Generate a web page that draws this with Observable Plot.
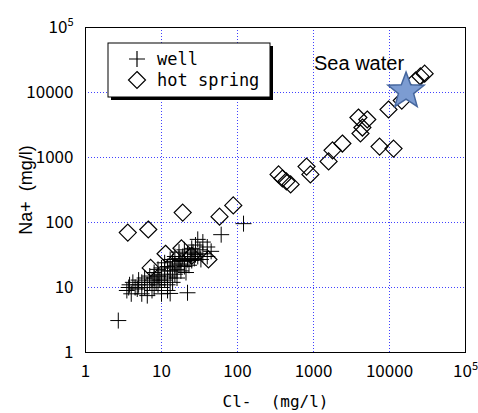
<!DOCTYPE html>
<html>
<head>
<meta charset="utf-8">
<script src="https://cdn.jsdelivr.net/npm/d3@7"></script>
<script src="https://cdn.jsdelivr.net/npm/@observablehq/plot@0.6"></script>
<style>
  html, body { margin: 0; padding: 0; background: white; }
</style>
</head>
<body>
<div id="chart"></div>
<script>
// ---- data (mg/l) ----
const wellCl = [2.7,3.5,3.7,3.8,4,4.2,4.5,4.8,5,5,5.5,5.5,6,6,6.5,6.5,7,7,7.5,7.5,8,8,8,8.5,9,9,9,9.5,10,10,10,10,10,11,11,11,12,12,12,12,13,13,13,14,14,14,15,15,15,16,16,17,17,17,18,18,19,20,20,20,21,22,22,23,24,25,25,26,27,28,28,30,30,32,33,35,35,40,40,45,13,22,61,120];
const wellNa = [3.1,9,10,11,8,12,10,9.5,11,13,8,12,10,14,11,7.5,12,15,9,13,10,14,17,12,11,15,19,13,10,12,16,20,8,13,18,24,11,15,21,9,14,18,27,12,20,25,16,22,30,14,19,23,28,35,18,26,30,21,25,38,17,27,33,22,30,26,40,35,28,32,45,30,55,38,27,33,50,30,42,36,8.1,8.3,65,96];
const springCl = [3.6,6.7,7.2,11.3,18.3,19,25,41.5,58,88,347,390,440,500,810,910,1580,1780,2400,3900,4150,4400,5100,9700,7400,11300,14500,22000,25500,29000];
const springNa = [70,78,20,33,40,142,31,27,123,183,550,475,430,385,725,550,870,1290,1640,4120,2340,2890,3840,5480,1470,1370,7500,15300,17700,19500];
const seaCl = [16500];
const seaNa = [10500];
const seaLabel = ["Sea water"];
const ticks = [1, 10, 100, 1000, 10000, 100000];
const tickLabels = ["1", "10", "100", "1000", "10000", "10⁵"];
const legendItems = ["well", "hot spring"];
const xLabel = "Cl-  (mg/l)";
const yLabel = "Na+  (mg/l)";

const wells = wellCl.map((c, i) => ({cl: c, na: wellNa[i]}));
const springs = springCl.map((c, i) => ({cl: c, na: springNa[i]}));
const sea = seaCl.map((c, i) => ({cl: c, na: seaNa[i], label: seaLabel[i]}));

// ---- symbols ----
const plusSym = {draw(ctx) { const h = 8; ctx.moveTo(-h, 0); ctx.lineTo(h, 0); ctx.moveTo(0, -h); ctx.lineTo(0, h); }};
const diamondSym = {draw(ctx) { const h = 8.5; ctx.moveTo(0, -h); ctx.lineTo(h, 0); ctx.lineTo(0, h); ctx.lineTo(-h, 0); ctx.closePath(); }};
const starSym = {draw(ctx) {
  const R = 19, r = 8;
  for (let k = 0; k < 10; k++) {
    const a = -Math.PI / 2 + k * Math.PI / 5;
    const rr = k % 2 ? r : R;
    const px = rr * Math.cos(a), py = rr * Math.sin(a);
    if (k === 0) ctx.moveTo(px, py); else ctx.lineTo(px, py);
  }
  ctx.closePath();
}};

const fmt = d => tickLabels[ticks.indexOf(d)];
const gridStyle = {stroke: "#2020ff", strokeOpacity: 0.85, strokeDasharray: "1,2", strokeWidth: 1, shapeRendering: "crispEdges"};

const chart = Plot.plot({
  width: 478, height: 413,
  marginLeft: 85, marginRight: 13, marginTop: 27, marginBottom: 61,
  style: {fontFamily: "'Noto Sans CJK JP', sans-serif", fontSize: "17px", background: "white", color: "black"},
  x: {type: "log", domain: [1, 1e5]},
  y: {type: "log", domain: [1, 1e5]},
  marks: [
    Plot.gridX(ticks.slice(1, -1), gridStyle),
    Plot.gridY(ticks.slice(1, -1), gridStyle),
    Plot.axisX({ticks, tickFormat: fmt, tickSize: 0, tickPadding: 12, label: xLabel, labelAnchor: "center", labelArrow: "none", labelOffset: 54, fontSize: 17}),
    Plot.axisY({ticks, tickFormat: fmt, tickSize: 0, tickPadding: 12, label: yLabel, labelAnchor: "center", labelArrow: "none", labelOffset: 66, fontSize: 17}),
    Plot.frame({stroke: "black", strokeWidth: 1}),
    Plot.dot(wells, {x: "cl", y: "na", symbol: plusSym, stroke: "black", fill: "none", strokeWidth: 1}),
    Plot.dot(springs, {x: "cl", y: "na", symbol: diamondSym, stroke: "black", fill: "none", strokeWidth: 1.2}),
    Plot.dot(sea, {x: "cl", y: "na", symbol: starSym, fill: "#7c9cd2", stroke: "#46679e", strokeWidth: 1.5}),
    Plot.text(sea, {x: "cl", y: "na", text: "label", dx: -47, dy: -28, fontSize: 20, fontFamily: "'Liberation Sans', Arial, sans-serif", fill: "black"})
  ]
});

document.getElementById("chart").appendChild(chart);

// superscript for 10^5 tick labels
d3.select(chart).selectAll("text").each(function() {
  const t = d3.select(this);
  if (t.text() === "10⁵") {
    t.text("");
    t.append("tspan").text("10");
    t.append("tspan").attr("dy", "-0.6em").attr("font-size", "11px").text("5");
  }
});

// axis label fonts
d3.select(chart).selectAll("[aria-label='x-axis label'] text")
  .attr("font-family", "'DejaVu Sans Mono', monospace").attr("font-size", 16);
d3.select(chart).selectAll("[aria-label='y-axis label'] text")
  .attr("font-family", "'Liberation Sans', Arial, sans-serif").attr("font-size", 18);

// legend box
const svg = d3.select(chart);
const lg = svg.append("g").attr("class", "legend");
const bx = 108, by = 43, bw = 162, bh = 54;
lg.append("rect").attr("x", bx + 3).attr("y", by + 3).attr("width", bw).attr("height", bh).attr("fill", "black");
lg.append("rect").attr("x", bx).attr("y", by).attr("width", bw).attr("height", bh).attr("fill", "white").attr("stroke", "black");
const syms = [plusSym, diamondSym];
legendItems.forEach((label, i) => {
  const cy = by + 16 + i * 21;
  const p = d3.path(); syms[i].draw(p);
  lg.append("path").attr("d", p.toString()).attr("transform", `translate(${bx + 29},${cy})`)
    .attr("fill", "none").attr("stroke", "black").attr("stroke-width", 1.2);
  lg.append("text").attr("x", bx + 49).attr("y", cy).attr("dy", "0.35em").attr("text-anchor", "start")
    .attr("font-family", "'DejaVu Sans Mono', monospace").attr("font-size", 17).attr("fill", "black").text(label);
});
</script>
</body>
</html>
